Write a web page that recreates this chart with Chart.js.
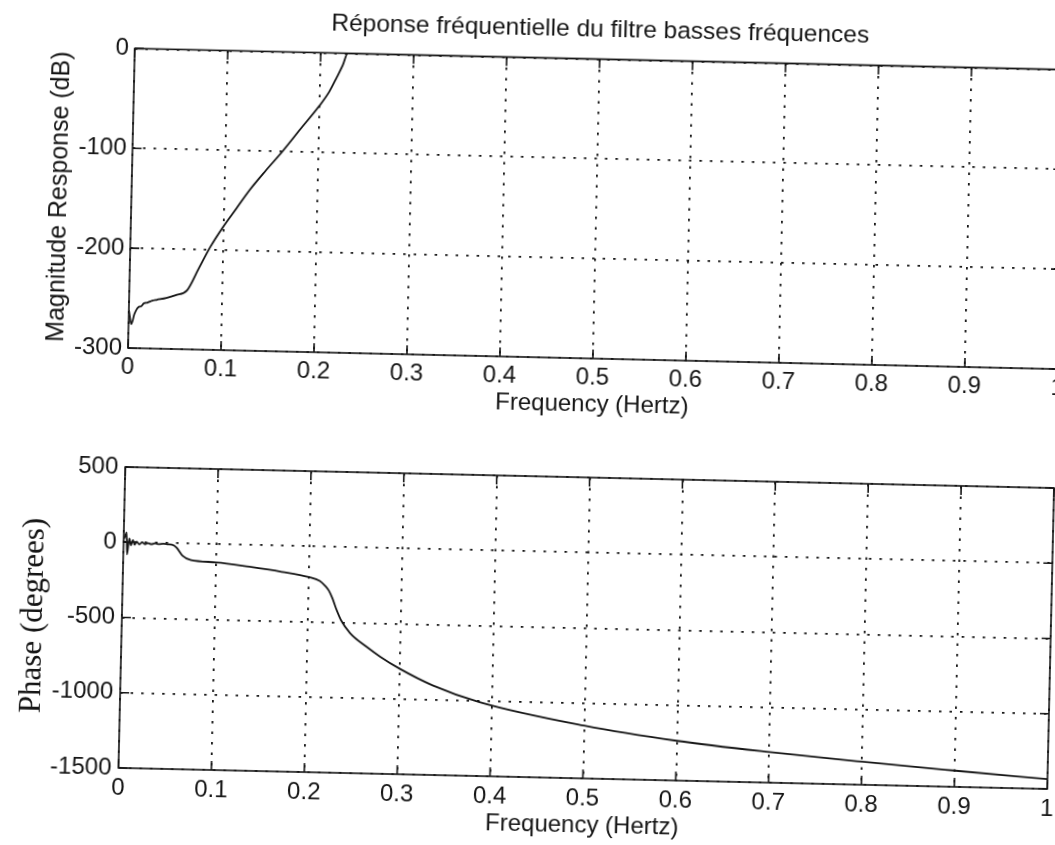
<!DOCTYPE html>
<html>
<head>
<meta charset="utf-8">
<script src="https://cdn.jsdelivr.net/npm/chart.js@4.4.1/dist/chart.umd.min.js"></script>
<style>
  html, body { margin: 0; padding: 0; background: #fff; width: 1055px; height: 845px; overflow: hidden; }
  /* the scan is a little skewed, so the whole sheet is turned by the same amount */
  #sheet { position: absolute; left: 0; top: 0; width: 1080px; height: 845px; transform-origin: 128px 348px; transform: rotate(1.3deg); }
  #mag { position: absolute; left: 0; top: 0; }
  #phase { position: absolute; left: 0; top: 420px; }
</style>
</head>
<body>
<div id="sheet">
  <canvas id="mag" width="1080" height="420"></canvas>
  <canvas id="phase" width="1080" height="425"></canvas>
</div>
<script>
const SANS = "'Liberation Sans', Arial, Helvetica, sans-serif";
const SERIF = "'Liberation Serif', 'Times New Roman', serif";
const INK = '#151515';

// magnitude response (dB) vs frequency (Hz)
const magFreq = [0, 0.003, 0.006, 0.01, 0.013, 0.016, 0.02, 0.025, 0.03, 0.04, 0.05, 0.062, 0.074, 0.086, 0.099,
  0.113, 0.127, 0.144, 0.161, 0.18, 0.2, 0.21, 0.218, 0.224, 0.229, 0.25, 0.5, 0.75, 1];
const magDb = [-262, -276, -266, -259, -258, -255, -254, -252, -251, -249, -246, -241, -219, -197, -177,
  -158, -139, -119, -100, -77, -53, -39, -24, -12, 0, 0, 0, 0, 0];

// phase (degrees) vs frequency (Hz)
const phaseFreq = [0, 0.0015, 0.003, 0.004, 0.006, 0.008, 0.01, 0.012, 0.014, 0.017, 0.02, 0.023, 0.026, 0.03,
  0.034, 0.038, 0.043, 0.048, 0.052, 0.057, 0.064, 0.073, 0.1, 0.136, 0.171, 0.2, 0.212, 0.218, 0.222, 0.226,
  0.231, 0.236, 0.246, 0.264, 0.279, 0.3, 0.336, 0.387, 0.5, 0.6, 0.7, 0.8, 0.9, 1];
const phaseDeg = [20, 40, 65, -80, 25, -20, 15, -15, 5, -12, 2, -10, -2, -9,
  -3, -8, -4, -7, -9, -27, -82, -109, -120, -144, -173, -204, -228, -260, -290, -340,
  -420, -487, -570, -658, -722, -798, -904, -1009, -1149, -1236, -1297, -1347, -1392, -1435];

const freqTicks = [0, 0.1, 0.2, 0.3, 0.4, 0.5, 0.6, 0.7, 0.8, 0.9, 1];
const magTicks = [0, -100, -200, -300];
const phaseTicks = [500, 0, -500, -1000, -1500];

// matlab style box with inward tick marks
const frame = {
  id: 'frame',
  afterDraw(chart) {
    const { ctx, chartArea: a, scales: { x, y } } = chart;
    ctx.save();
    ctx.strokeStyle = INK;
    ctx.lineWidth = 1.6;
    ctx.strokeRect(a.left, a.top, a.right - a.left, a.bottom - a.top);
    ctx.beginPath();
    x.ticks.forEach(t => {
      const px = x.getPixelForValue(t.value);
      ctx.moveTo(px, a.bottom); ctx.lineTo(px, a.bottom - 9);
      ctx.moveTo(px, a.top); ctx.lineTo(px, a.top + 9);
    });
    y.ticks.forEach(t => {
      const py = y.getPixelForValue(t.value);
      ctx.moveTo(a.left, py); ctx.lineTo(a.left + 9, py);
      ctx.moveTo(a.right, py); ctx.lineTo(a.right - 9, py);
    });
    ctx.stroke();
    ctx.restore();
  }
};

const grid = { color: INK, lineWidth: 1.8, drawTicks: false };
const border = { display: false, dash: [2.5, 8] };

function makeChart(id, o) {
  return new Chart(document.getElementById(id), {
    type: 'line',
    data: {
      datasets: [{
        data: o.xs.map((f, i) => ({ x: f, y: o.ys[i] })),
        borderColor: INK, borderWidth: 1.8, pointRadius: 0,
        cubicInterpolationMode: 'monotone'
      }]
    },
    options: {
      responsive: false, animation: false, devicePixelRatio: 1,
      layout: { padding: o.padding },
      plugins: {
        legend: { display: false }, tooltip: { enabled: false },
        title: o.title ? {
          display: true, text: o.title, fullSize: false, color: INK,
          font: { family: SANS, size: 24.5, weight: 'normal' }, padding: { top: 5, bottom: 14 }
        } : { display: false }
      },
      scales: {
        x: {
          type: 'linear', min: 0, max: 1,
          afterFit: s => { s.height = o.xHeight; },
          afterBuildTicks: s => { s.ticks = freqTicks.map(v => ({ value: v })); },
          grid, border,
          ticks: { color: INK, padding: o.xTickPad, maxRotation: 0, font: { family: SANS, size: 24 }, callback: v => String(v) },
          title: { display: true, text: 'Frequency (Hertz)', color: INK, font: { family: SANS, size: 24 }, padding: { top: 0, bottom: o.xTitlePad } }
        },
        y: {
          type: 'linear', min: o.yTicks[o.yTicks.length - 1], max: o.yTicks[0],
          afterFit: s => { s.width = 128; },
          afterBuildTicks: s => { s.ticks = o.yTicks.map(v => ({ value: v })); },
          grid, border,
          ticks: { color: INK, padding: o.yTickPad, font: { family: SANS, size: 24 }, callback: v => String(v) },
          title: { display: true, text: o.yTitle, color: INK, font: o.yFont, padding: { top: o.yTitlePad, bottom: 0 } }
        }
      }
    },
    plugins: [frame]
  });
}

makeChart('mag', {
  xs: magFreq, ys: magDb, yTicks: magTicks,
  title: 'Réponse fréquentielle du filtre basses fréquences',
  padding: { left: 0, right: 22, top: 0, bottom: 0 },
  xHeight: 72, xTickPad: 5, xTitlePad: 11, yTickPad: 6,
  yTitle: 'Magnitude Response (dB)', yFont: { family: SANS, size: 25 }, yTitlePad: 41
});

makeChart('phase', {
  xs: phaseFreq, ys: phaseDeg, yTicks: phaseTicks,
  padding: { left: 0, right: 23, top: 47, bottom: 0 },
  xHeight: 77, xTickPad: 6, xTitlePad: 15, yTickPad: 7,
  yTitle: 'Phase (degrees)', yFont: { family: SERIF, size: 31 }, yTitlePad: 21
});
</script>
</body>
</html>
